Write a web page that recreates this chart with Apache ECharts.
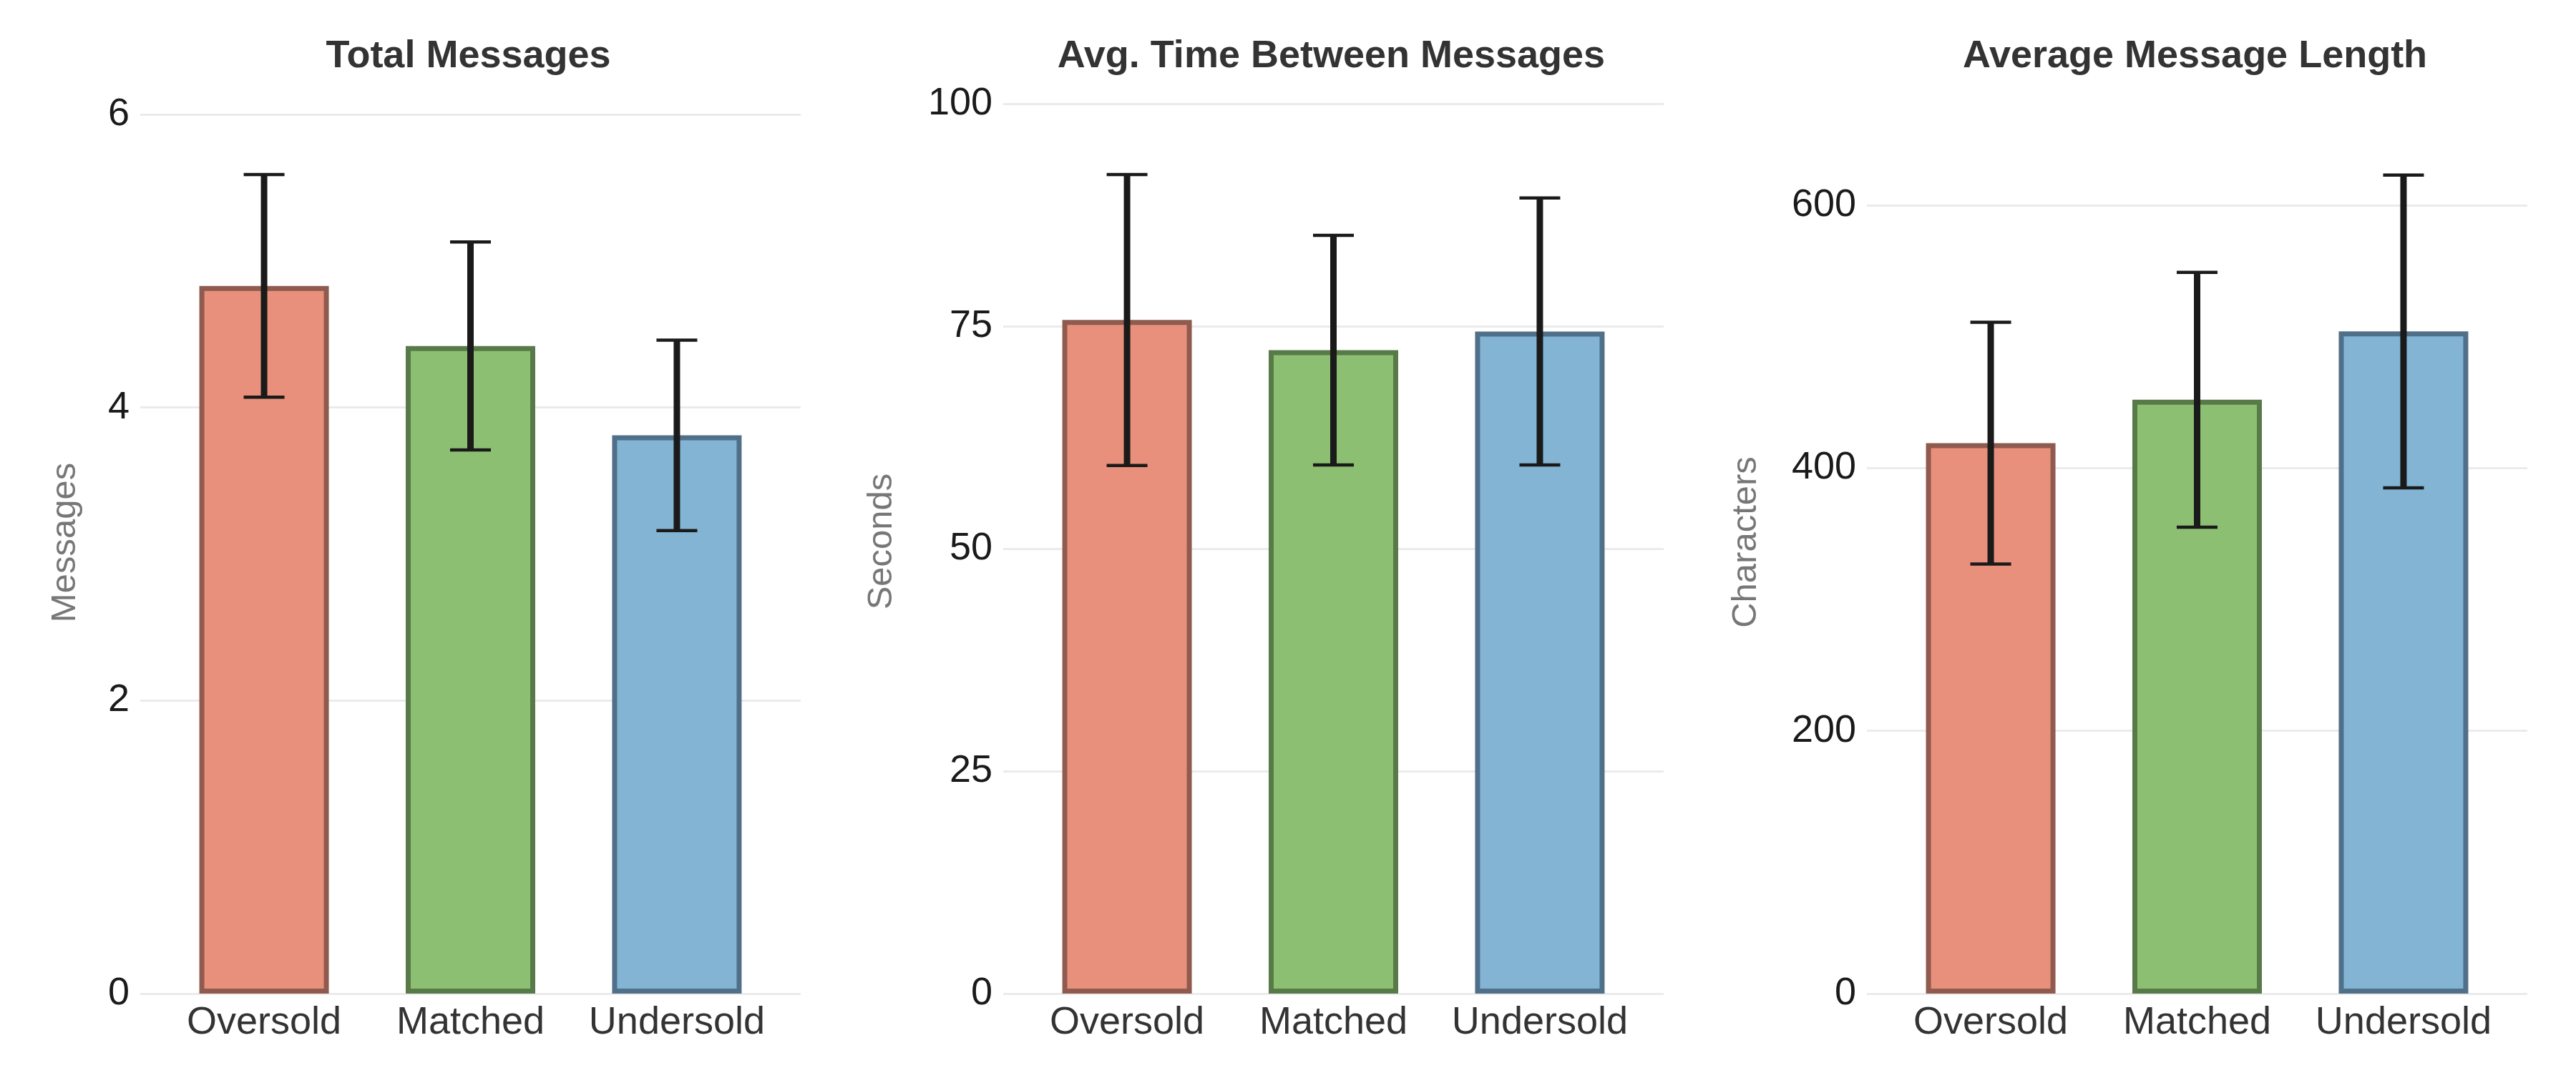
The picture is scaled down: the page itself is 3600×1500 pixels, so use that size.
<!DOCTYPE html>
<html lang="en">

<head>
    <meta charset="UTF-8">
    <title>Message stats</title>
    <script src="https://cdn.jsdelivr.net/npm/echarts@6/dist/echarts.min.js"></script>
    <style>
        body {
            margin: 0;
            background: #fff;
        }

        #main {
            width: 3600px;
            height: 1500px;
        }
    </style>
</head>

<body>
    <div id="main"></div>
    <script>
        var categories = ['Oversold', 'Matched', 'Undersold'];

        var titles = ['Total Messages', 'Avg. Time Between Messages', 'Average Message Length'];
        var yNames = ['Messages', 'Seconds', 'Characters'];

        // bar heights and error (+/-)
        var totalMean = [4.83, 4.42, 3.81];
        var totalErr = [0.76, 0.71, 0.65];
        var gapMean = [75.7, 72.3, 74.4];
        var gapErr = [16.35, 12.9, 15.0];
        var lengthMean = [419, 452, 504];
        var lengthErr = [92, 97, 119];

        // y axis ticks: 0..max step
        var yMax = [6, 100, 600];
        var yStep = [2, 25, 200];

        var fillColors = ['#e8907c', '#8dbf72', '#83b4d4'];
        var edgeColors = ['#8f5b4f', '#587a48', '#50708a'];

        var means = [totalMean, gapMean, lengthMean];
        var errs = [totalErr, gapErr, lengthErr];

        // layout of the three panels (px)
        var gridLeft = [196, 1402, 2609];
        var gridTop = [160, 145, 287];
        var gridWidth = 923;
        var nameGap = [80, 145, 144];
        var namePad = [32, 20, 160];

        var font = 'Liberation Sans';

        function renderErrorBar(params, api) {
            var x = api.value(0);
            var low = api.coord([x, api.value(1)]);
            var high = api.coord([x, api.value(2)]);
            var half = 28.5;
            var stem = { stroke: '#1a1a1a', lineWidth: 9 };
            var cap = { stroke: '#1a1a1a', lineWidth: 4.5 };
            return {
                type: 'group',
                children: [
                    { type: 'line', shape: { x1: low[0], y1: low[1], x2: high[0], y2: high[1] }, style: stem },
                    { type: 'line', shape: { x1: low[0] - half, y1: low[1], x2: low[0] + half, y2: low[1] }, style: cap },
                    { type: 'line', shape: { x1: high[0] - half, y1: high[1], x2: high[0] + half, y2: high[1] }, style: cap }
                ]
            };
        }

        var option = {
            animation: false,
            backgroundColor: '#fff',
            textStyle: { fontFamily: font },
            title: [],
            grid: [],
            xAxis: [],
            yAxis: [],
            series: []
        };

        for (var p = 0; p < 3; p++) {
            option.title.push({
                text: titles[p],
                left: gridLeft[p] + gridWidth / 2 - 8,
                top: 47,
                textAlign: 'center',
                textStyle: { fontFamily: font, fontSize: 54, fontWeight: 'bold', color: '#333' }
            });
            option.grid.push({
                left: gridLeft[p],
                top: gridTop[p],
                width: gridWidth,
                bottom: 111
            });
            option.xAxis.push({
                gridIndex: p,
                type: 'value',
                min: -0.6,
                max: 2.6,
                splitLine: { show: false },
                axisLine: { show: false },
                axisTick: { show: false },
                axisLabel: {
                    margin: 14,
                    fontSize: 54,
                    color: '#333',
                    formatter: function (v) {
                        return Number.isInteger(v) && categories[v] ? categories[v] : '';
                    }
                }
            });
            option.yAxis.push({
                gridIndex: p,
                type: 'value',
                min: 0,
                max: yMax[p],
                interval: yStep[p],
                name: yNames[p],
                nameLocation: 'middle',
                nameGap: nameGap[p],
                nameTextStyle: { fontSize: 49, color: '#777', padding: [0, 0, 0, namePad[p]] },
                axisLine: { show: false },
                axisTick: { show: false },
                axisLabel: { margin: 15, fontSize: 54, color: '#1a1a1a' },
                splitLine: { lineStyle: { color: '#ebebeb', width: 3 } }
            });

            var barData = [];
            var errData = [];
            for (var i = 0; i < categories.length; i++) {
                barData.push({
                    value: [i, means[p][i]],
                    itemStyle: { color: fillColors[i], borderColor: edgeColors[i], borderWidth: 7 }
                });
                errData.push([i, means[p][i] - errs[p][i], means[p][i] + errs[p][i]]);
            }
            option.series.push({
                type: 'bar',
                xAxisIndex: p,
                yAxisIndex: p,
                barWidth: 181,
                data: barData,
                z: 2
            });
            option.series.push({
                type: 'custom',
                xAxisIndex: p,
                yAxisIndex: p,
                renderItem: renderErrorBar,
                encode: { x: 0, y: [1, 2] },
                clip: false,
                data: errData,
                z: 3
            });
        }

        var myChart = echarts.init(document.getElementById('main'));
        myChart.setOption(option);
    </script>
</body>

</html>
